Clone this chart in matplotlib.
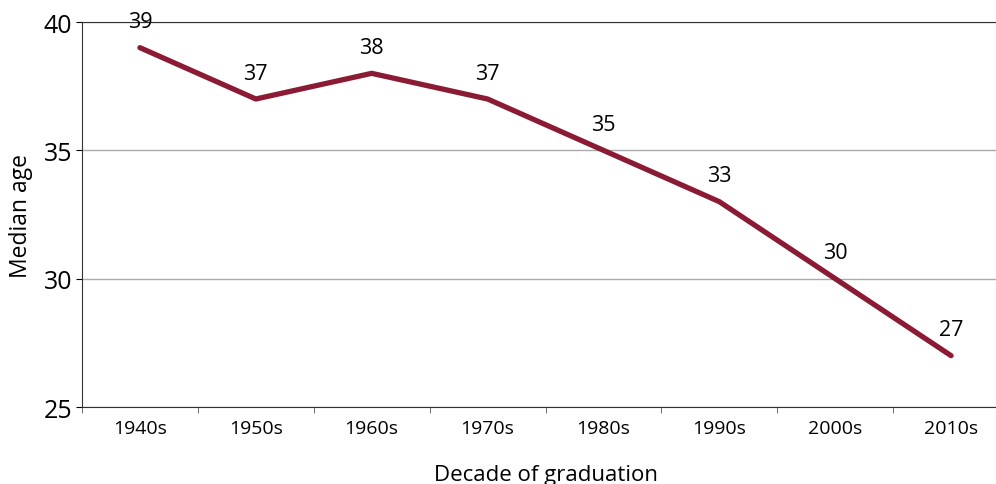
import matplotlib.pyplot as plt

decades = ['1940s', '1950s', '1960s', '1970s', '1980s', '1990s', '2000s', '2010s']
median_age = [39, 37, 38, 37, 35, 33, 30, 27]
y_ticks = [25, 30, 35, 40]

plt.rcParams['font.family'] = ['Open Sans', 'DejaVu Sans']

fig = plt.figure(figsize=(9.96, 4.85), dpi=100)
# axes run past the right edge, as in the original
ax = fig.add_axes([82 / 996, 1 - 408 / 485, (1009 - 82) / 996, (408 - 23) / 485])

x = list(range(len(decades)))
ax.plot(x, median_age, color='#8b1a34', linewidth=3.8, solid_capstyle='round',
        solid_joinstyle='round', zorder=3)
for xi, v in zip(x, median_age):
    ax.annotate(str(v), (xi, v), xytext=(0, 11), textcoords='offset points',
                ha='center', va='bottom', fontsize=15.5)

ax.set_xlim(-0.5, len(decades) - 0.5)
ax.set_ylim(25, 40)
ax.set_yticks(y_ticks)
ax.set_yticklabels([str(t) for t in y_ticks], fontsize=18)
ax.set_xticks(x)
ax.set_xticklabels(decades, fontsize=14)
ax.tick_params(axis='x', length=0, pad=9)
ax.set_xticks([i + 0.5 for i in range(-1, len(decades))], minor=True)
ax.tick_params(axis='x', which='minor', length=4, direction='out', color='#555555')
ax.tick_params(axis='y', length=4, direction='out', pad=3)

ax.grid(axis='y', color='#aaaaaa', linewidth=1)
ax.set_axisbelow(True)
ax.spines['right'].set_visible(False)
for s in ['top', 'left', 'bottom']:
    ax.spines[s].set_color('#333333')

ax.set_ylabel('Median age', fontsize=16.5, labelpad=8)
ax.set_xlabel('Decade of graduation', fontsize=16, labelpad=19)

fig.savefig('out.png', dpi=100)
